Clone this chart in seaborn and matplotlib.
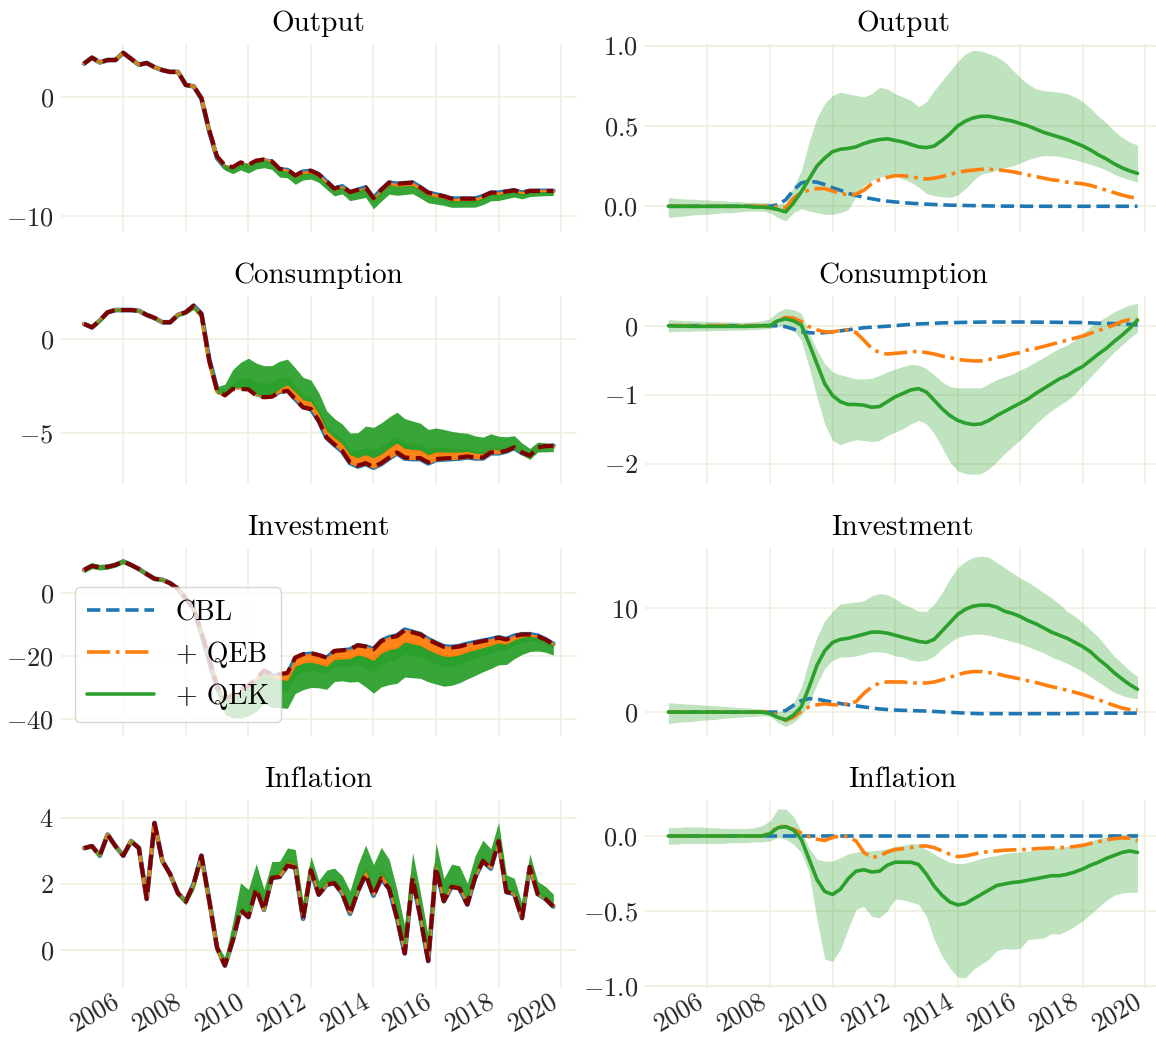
import numpy as np
import pandas as pd
import matplotlib
matplotlib.use("Agg")
import matplotlib.pyplot as plt
import seaborn as sns
from matplotlib.lines import Line2D

# ---------------- data (quarterly, 2004Q4 .. 2019Q4) ----------------
quarters = pd.period_range("2004Q4", "2019Q4", freq="Q")

titles = ["Output", "Consumption", "Investment", "Inflation"]
series_labels = ["CBL", "+ QEB", "+ QEK"]
year_ticks = [2006, 2008, 2010, 2012, 2014, 2016, 2018, 2020]
year_labels = ["2006", "2008", "2010", "2012", "2014", "2016", "2018", "2020"]

# ---- Output ----
output_data = [2.8, 3.3, 2.9, 3.1, 3.1, 3.7, 3.2, 2.7, 2.85, 2.5, 2.25, 2.1, 2.1, 1.0, 0.9, -0.1,
               -2.8, -5.0, -5.75, -5.9, -5.5, -5.7, -5.35, -5.25, -5.4, -6.05, -6.1, -6.6, -6.25,
               -6.2, -6.5, -7.1, -7.7, -7.5, -8.0, -7.8, -7.6, -8.5, -7.8, -7.2, -7.3, -7.25, -7.2,
               -7.6, -8.05, -8.2, -8.35, -8.55, -8.55, -8.55, -8.55, -8.35, -8.05, -8.05, -7.95,
               -7.85, -8.05, -7.9, -7.9, -7.9, -7.9]
output_cbl = [0.0, 0.0, 0.0, 0.0, 0.0, 0.0, 0.0, 0.0, 0.0, 0.0, 0.0, 0.0, 0.0,
              0.0, 0.01, 0.04, 0.1, 0.145, 0.155, 0.15, 0.135, 0.115, 0.1, 0.08, 0.068, 0.055,
              0.047, 0.038, 0.032, 0.027, 0.023, 0.019, 0.016, 0.013, 0.011, 0.009, 0.007, 0.006,
              0.005, 0.004, 0.003, 0.002, 0.002, 0.001, 0.001, 0.001,
              0.0, 0.0, 0.0, 0.0, 0.0, 0.0, 0.0, 0.0, 0.0, 0.0, 0.0, 0.0, 0.0, 0.0, 0.0]
output_qeb = [0.0, 0.0, 0.0, 0.0, 0.0, 0.0, 0.0, 0.0, 0.0, 0.0, 0.0, 0.0, 0.0,
              0.0, -0.005, -0.01, 0.05, 0.085, 0.1, 0.11, 0.11, 0.095, 0.08, 0.072, 0.075, 0.1,
              0.14, 0.165, 0.18, 0.19, 0.19, 0.185, 0.175, 0.17, 0.175, 0.185, 0.2, 0.21, 0.22,
              0.225, 0.23, 0.23, 0.228, 0.222, 0.215, 0.205, 0.195, 0.185, 0.175, 0.165, 0.16,
              0.15, 0.145, 0.14, 0.13, 0.115, 0.1, 0.085, 0.07, 0.058, 0.05]
output_qek = [0.0, 0.0, 0.0, 0.0, 0.0, 0.0, 0.0, 0.0, 0.0, 0.0, 0.0, -0.005, -0.005,
              -0.01, -0.02, -0.035, 0.02, 0.09, 0.17, 0.25, 0.30, 0.34, 0.355, 0.36, 0.37, 0.39,
              0.405, 0.415, 0.42, 0.41, 0.40, 0.385, 0.37, 0.365, 0.375, 0.41, 0.45, 0.50, 0.53,
              0.55, 0.56, 0.56, 0.55, 0.54, 0.53, 0.515, 0.50, 0.48, 0.46, 0.445, 0.43, 0.415,
              0.395, 0.375, 0.35, 0.32, 0.295, 0.265, 0.24, 0.22, 0.205]
output_qek_lo = [-0.07, -0.065, -0.06, -0.055, -0.05, -0.05, -0.045, -0.04, -0.04, -0.035, -0.03,
                 -0.03, -0.03, -0.04, -0.07, -0.09, -0.04, -0.015, -0.03, -0.04, -0.05, -0.05,
                 -0.04, -0.02, 0.06, 0.13, 0.16, 0.18, 0.19, 0.19, 0.17, 0.15, 0.12, 0.08, 0.065,
                 0.06, 0.055, 0.07, 0.11, 0.16, 0.2, 0.21, 0.225, 0.24, 0.25, 0.27, 0.29, 0.305,
                 0.315, 0.315, 0.31, 0.3, 0.29, 0.275, 0.26, 0.245, 0.225, 0.2, 0.18, 0.165, 0.15]
output_qek_hi = [0.055, 0.05, 0.045, 0.045, 0.04, 0.04, 0.035, 0.035, 0.03, 0.03, 0.025, 0.025,
                 0.025, 0.02, 0.015, 0.02, 0.12, 0.22, 0.4, 0.55, 0.64, 0.69, 0.71, 0.70, 0.69,
                 0.68, 0.70, 0.74, 0.73, 0.70, 0.68, 0.66, 0.62, 0.65, 0.72, 0.78, 0.84, 0.90,
                 0.95, 0.97, 0.965, 0.95, 0.93, 0.9, 0.85, 0.8, 0.76, 0.73, 0.72, 0.715, 0.71,
                 0.7, 0.68, 0.65, 0.61, 0.56, 0.52, 0.47, 0.43, 0.4, 0.38]

# ---- Consumption ----
consumption_data = [0.8, 0.62, 0.98, 1.42, 1.54, 1.54, 1.54, 1.5, 1.28, 1.12, 0.89, 0.89, 1.28,
                    1.42, 1.77, 1.33, -1.15, -2.75, -3.0, -2.66, -2.66, -2.68, -3.0, -3.1, -3.07,
                    -2.84, -2.75, -3.2, -3.63, -3.72, -4.34, -5.23, -5.6, -5.94, -6.56, -6.74,
                    -6.6, -6.8, -6.6, -6.3, -6.03, -6.3, -6.33, -6.33, -6.56, -6.38, -6.35, -6.33,
                    -6.3, -6.24, -6.3, -6.3, -6.03, -6.03, -5.94, -5.76, -6.03, -6.2, -5.76, -5.7,
                    -5.67]
consumption_cbl = [0.0, 0.0, 0.0, 0.0, 0.0, 0.0, 0.0, 0.0, 0.0, 0.0, 0.0, 0.0, 0.0, 0.0,
                   0.0, -0.015, -0.05, -0.09, -0.1, -0.11, -0.1, -0.09, -0.075, -0.06, -0.045,
                   -0.03, -0.022, -0.015, -0.008, 0.0, 0.01, 0.02, 0.025, 0.03, 0.035, 0.04,
                   0.043, 0.045, 0.048, 0.05, 0.052, 0.053, 0.053, 0.053, 0.053, 0.053, 0.052,
                   0.051, 0.05, 0.05, 0.048, 0.047, 0.046, 0.045, 0.04, 0.035, 0.033, 0.03,
                   0.025, 0.02, 0.01]
consumption_qeb = [0.0, 0.0, 0.0, 0.0, 0.0, 0.0, 0.0, 0.0, 0.0, 0.0, 0.0, 0.0, 0.0,
                   0.0, 0.08, 0.12, 0.11, 0.06, -0.015, -0.06, -0.09, -0.09, -0.07, -0.06, -0.1,
                   -0.21, -0.33, -0.39, -0.41, -0.4, -0.39, -0.38, -0.37, -0.39, -0.41, -0.44,
                   -0.46, -0.49, -0.5, -0.51, -0.51, -0.49, -0.46, -0.44, -0.41, -0.39, -0.35,
                   -0.33, -0.3, -0.27, -0.24, -0.21, -0.18, -0.15, -0.11, -0.07, -0.03, 0.01,
                   0.06, 0.09, 0.09]
consumption_qek = [0.0, -0.005, -0.005, -0.01, -0.01, -0.01, -0.01, -0.01, -0.01, -0.01, -0.01,
                   -0.005, 0.0, 0.0, 0.07, 0.1, 0.07, 0.01, -0.26, -0.55, -0.84, -1.01, -1.1,
                   -1.14, -1.14, -1.15, -1.18, -1.17, -1.1, -1.03, -0.98, -0.93, -0.91, -0.96,
                   -1.08, -1.2, -1.3, -1.37, -1.41, -1.43, -1.42, -1.37, -1.3, -1.24, -1.18,
                   -1.12, -1.06, -0.98, -0.91, -0.84, -0.77, -0.72, -0.65, -0.59, -0.5, -0.41,
                   -0.33, -0.23, -0.14, -0.04, 0.08]
consumption_qek_lo = [-0.09, -0.085, -0.08, -0.08, -0.075, -0.075, -0.07, -0.07, -0.065, -0.065,
                      -0.06, -0.06, -0.05, -0.04, -0.015, 0.0, -0.06, -0.21, -0.6, -1.03, -1.42,
                      -1.66, -1.72, -1.68, -1.65, -1.66, -1.68, -1.66, -1.59, -1.54, -1.49,
                      -1.42, -1.37, -1.42, -1.56, -1.76, -1.97, -2.1, -2.14, -2.15, -2.14,
                      -2.07, -1.97, -1.85, -1.75, -1.65, -1.54, -1.42, -1.32, -1.23, -1.15,
                      -1.08, -0.99, -0.86, -0.74, -0.62, -0.5, -0.38, -0.28, -0.18, -0.09]
consumption_qek_hi = [0.09, 0.08, 0.075, 0.07, 0.065, 0.06, 0.06, 0.055, 0.055, 0.05, 0.05, 0.06,
                      0.07, 0.1, 0.2, 0.25, 0.23, 0.18, -0.11, -0.35, -0.55, -0.67, -0.71, -0.74,
                      -0.77, -0.77, -0.76, -0.72, -0.67, -0.63, -0.59, -0.56, -0.57, -0.62,
                      -0.71, -0.81, -0.88, -0.9, -0.9, -0.9, -0.9, -0.84, -0.78, -0.74, -0.7,
                      -0.64, -0.59, -0.52, -0.46, -0.39, -0.33, -0.28, -0.21, -0.11, -0.015,
                      0.06, 0.13, 0.2, 0.25, 0.3, 0.32]

# ---- Investment ----
investment_data = [7.3, 8.6, 8.1, 8.3, 8.9, 10.0, 8.9, 7.6, 6.0, 4.5, 4.2, 3.1, 1.35, -1.8, -4.9,
                   -12.7, -21.0, -29.3, -33.5, -32.4, -30.9, -29.3, -27.2, -24.6, -25.7, -25.7,
                   -25.4, -20.5, -19.4, -19.1, -19.7, -20.5, -18.4, -18.2, -17.9, -16.6, -17.0,
                   -17.9, -15.3, -14.2, -13.7, -11.8, -12.5, -13.2, -14.8, -16.0, -17.1, -17.3,
                   -17.0, -16.3, -15.8, -15.3, -14.8, -14.2, -14.8, -13.7, -13.2, -13.2, -13.7,
                   -14.8, -16.3]
investment_cbl = [0.0, 0.0, 0.0, 0.0, 0.0, 0.0, 0.0, 0.0, 0.0, 0.0, 0.0, 0.0, 0.0, 0.0, 0.0,
                  0.15, 0.65, 1.1, 1.3, 1.25, 1.1, 0.95, 0.82, 0.7, 0.6, 0.5, 0.4, 0.3, 0.25,
                  0.2, 0.17, 0.15, 0.12, 0.1, 0.06, 0.02, -0.02, -0.06, -0.1, -0.13, -0.15,
                  -0.15, -0.15, -0.15, -0.15, -0.15, -0.15, -0.15, -0.15, -0.15, -0.15, -0.14,
                  -0.13, -0.12, -0.12, -0.11, -0.1, -0.1, -0.1, -0.1, -0.1]
investment_qeb = [0.0, 0.0, 0.0, 0.0, 0.0, 0.0, 0.0, 0.0, 0.0, 0.0, 0.0, 0.0, 0.0, 0.0,
                  -0.3, -0.8, -0.5, 0.1, 0.5, 0.7, 0.8, 0.7, 0.7, 0.8, 1.0, 1.8, 2.4, 2.8, 2.9,
                  2.9, 2.9, 2.8, 2.8, 2.8, 2.9, 3.1, 3.35, 3.6, 3.8, 3.9, 3.9, 3.8, 3.7, 3.5,
                  3.35, 3.2, 3.0, 2.85, 2.65, 2.45, 2.3, 2.1, 1.9, 1.7, 1.45, 1.2, 0.9, 0.65,
                  0.4, 0.25, 0.2]
investment_qek = [0.0, 0.0, 0.0, 0.0, 0.0, 0.0, 0.0, 0.0, 0.0, 0.0, 0.0, 0.0, 0.0,
                  -0.15, -0.5, -0.75, -0.3, 0.5, 2.4, 4.5, 5.9, 6.7, 7.0, 7.1, 7.3, 7.5, 7.7,
                  7.7, 7.6, 7.4, 7.2, 7.0, 6.8, 6.7, 7.0, 7.8, 8.6, 9.4, 9.9, 10.2, 10.3, 10.3,
                  10.1, 9.7, 9.5, 9.2, 8.8, 8.5, 8.1, 7.7, 7.4, 7.1, 6.7, 6.3, 5.8, 5.1, 4.5,
                  3.8, 3.2, 2.65, 2.2]
investment_qek_lo = [-1.1, -1.0, -0.95, -0.9, -0.8, -0.75, -0.7, -0.6, -0.55, -0.5, -0.45, -0.4,
                     -0.35, -0.4, -1.0, -1.4, -1.0, -0.3, 0.8, 2.7, 4.2, 5.0, 5.3, 5.3, 5.4, 5.6,
                     5.8, 5.8, 5.7, 5.4, 5.3, 5.0, 4.9, 5.0, 5.4, 6.1, 6.7, 7.2, 7.4, 7.5, 7.5,
                     7.4, 7.2, 7.0, 6.8, 6.6, 6.3, 6.0, 5.7, 5.3, 5.0, 4.7, 4.3, 3.9, 3.4, 2.9,
                     2.4, 1.9, 1.6, 1.4, 1.3]
investment_qek_hi = [0.9, 0.85, 0.8, 0.75, 0.7, 0.65, 0.6, 0.55, 0.5, 0.45, 0.4, 0.35, 0.3, 0.15,
                     0.0, 0.3, 0.8, 2.4, 5.0, 7.2, 8.8, 9.7, 10.4, 10.5, 10.6, 10.7, 11.2, 11.4,
                     11.3, 10.9, 10.4, 10.1, 9.7, 9.7, 10.4, 11.5, 12.8, 13.9, 14.5, 14.9, 15.0,
                     14.9, 14.4, 13.9, 13.4, 12.9, 12.5, 12.0, 11.5, 11.0, 10.4, 9.7, 9.2, 8.6,
                     7.9, 7.2, 6.3, 5.4, 4.7, 4.0, 3.4]

# ---- Inflation ----
inflation_data = [3.09, 3.15, 2.86, 3.5, 3.15, 2.86, 3.3, 3.09, 1.55, 3.85, 2.7, 2.3, 1.72, 1.47,
                  2.0, 2.86, 1.5, 0.07, -0.47, 0.28, 1.22, 1.0, 1.86, 1.22, 2.19, 2.22, 2.56, 2.5,
                  0.95, 2.42, 1.68, 1.98, 2.03, 1.72, 1.1, 1.78, 2.3, 1.65, 2.17, 1.86, 0.98,
                  -0.1, 2.19, 1.0, -0.33, 2.5, 1.48, 1.92, 1.87, 1.38, 2.2, 2.7, 2.47, 3.3, 1.76,
                  1.7, 0.97, 2.52, 1.7, 1.55, 1.32]
inflation_cbl = [0.0, 0.0, 0.0, 0.0, 0.0, 0.0, 0.0, 0.0, 0.0, 0.0, 0.0, 0.0, 0.0, 0.0, 0.0, 0.0,
                 0.0, 0.0, 0.0, 0.0, 0.0, 0.0, 0.0, 0.0, 0.0, 0.0, 0.0, 0.0, 0.0, 0.0, 0.0, 0.0,
                 0.0, 0.0, 0.0, 0.0, 0.0, 0.0, 0.0, 0.0, 0.0, 0.0, 0.0, 0.0, 0.0, 0.0, 0.0, 0.0,
                 0.0, 0.0, 0.0, 0.0, 0.0, 0.0, 0.0, 0.0, 0.0, 0.0, 0.0, 0.0, 0.0]
inflation_qeb = [0.0, 0.0, 0.0, 0.0, 0.0, 0.0, 0.0, 0.0, 0.0, 0.0, 0.0, 0.0, 0.0,
                 0.018, 0.065, 0.062, 0.045, 0.018, -0.005, -0.022, -0.03, -0.01, 0.0, -0.005,
                 -0.033, -0.11, -0.145, -0.133, -0.107, -0.09, -0.085, -0.078, -0.067, -0.067,
                 -0.078, -0.1, -0.122, -0.138, -0.133, -0.122, -0.11, -0.105, -0.1, -0.095,
                 -0.093, -0.091, -0.09, -0.085, -0.082, -0.08, -0.078, -0.076, -0.07, -0.062,
                 -0.05, -0.038, -0.027, -0.018, -0.013, -0.015, -0.033]
inflation_qek = [0.0, 0.0, 0.0, 0.0, 0.0, 0.0, 0.0, 0.0, 0.0, 0.0, 0.0, 0.0, 0.0,
                 0.015, 0.055, 0.062, 0.04, -0.022, -0.155, -0.29, -0.37, -0.39, -0.355, -0.285,
                 -0.235, -0.225, -0.24, -0.235, -0.195, -0.175, -0.175, -0.175, -0.19, -0.255,
                 -0.335, -0.395, -0.44, -0.46, -0.45, -0.42, -0.39, -0.36, -0.33, -0.32, -0.31,
                 -0.305, -0.295, -0.285, -0.275, -0.265, -0.265, -0.255, -0.24, -0.22, -0.195,
                 -0.175, -0.15, -0.13, -0.11, -0.1, -0.11]
inflation_qek_lo = [-0.055, -0.055, -0.05, -0.05, -0.05, -0.05, -0.05, -0.05, -0.045, -0.045,
                    -0.045, -0.04, -0.04, -0.033, -0.01, -0.022, -0.055, -0.11, -0.245, -0.555,
                    -0.82, -0.835, -0.755, -0.62, -0.49, -0.47, -0.535, -0.545, -0.5, -0.42,
                    -0.425, -0.44, -0.455, -0.535, -0.69, -0.8, -0.88, -0.94, -0.945, -0.89,
                    -0.855, -0.82, -0.765, -0.75, -0.755, -0.75, -0.69, -0.685, -0.68, -0.65,
                    -0.655, -0.63, -0.6, -0.565, -0.52, -0.475, -0.43, -0.395, -0.38, -0.375,
                    -0.375]
inflation_qek_hi = [0.055, 0.055, 0.06, 0.06, 0.06, 0.055, 0.055, 0.05, 0.05, 0.05, 0.05, 0.055,
                    0.07, 0.1, 0.18, 0.18, 0.13, 0.033, -0.08, -0.155, -0.167, -0.167, -0.145,
                    -0.12, -0.107, -0.1, -0.1, -0.093, -0.085, -0.07, -0.062, -0.05, -0.055,
                    -0.09, -0.12, -0.15, -0.175, -0.185, -0.18, -0.167, -0.15, -0.138, -0.13,
                    -0.118, -0.11, -0.107, -0.1, -0.095, -0.09, -0.085, -0.078, -0.07, -0.062,
                    -0.05, -0.033, -0.018, -0.005, 0.005, 0.01, 0.018, 0.018]

panels = [
    (output_data, output_cbl, output_qeb, output_qek, output_qek_lo, output_qek_hi),
    (consumption_data, consumption_cbl, consumption_qeb, consumption_qek,
     consumption_qek_lo, consumption_qek_hi),
    (investment_data, investment_cbl, investment_qeb, investment_qek,
     investment_qek_lo, investment_qek_hi),
    (inflation_data, inflation_cbl, inflation_qeb, inflation_qek,
     inflation_qek_lo, inflation_qek_hi),
]

# ---------------- styling ----------------
left_yticks = [[-10, 0], [-5, 0], [-40, -20, 0], [0, 2, 4]]
right_yticks = [[0.0, 0.5, 1.0], [-2, -1, 0], [0, 10], [-1.0, -0.5, 0.0]]
left_ylims = [(-11.35, 4.45), (-7.71, 2.29), (-45.4, 14.3), (-1.15, 4.55)]
right_ylims = [(-0.16, 1.01), (-2.29, 0.43), (-2.3, 15.8), (-1.013, 0.24)]

BLUE, ORANGE, GREEN = "#1f77b4", "#ff7f0e", "#2ca02c"
DATA_RED = "#7f0000"
GRID = "#f0f0e2"

sns.set_theme(style="whitegrid")
plt.rcParams.update({
    "font.family": "serif",
    "font.serif": ["cmr10"],
    "mathtext.fontset": "cm",
    "axes.formatter.use_mathtext": True,
    "axes.unicode_minus": True,
    "text.color": "black",
    "xtick.color": ".15",
    "ytick.color": ".15",
})

fig, axes = plt.subplots(4, 2, figsize=(11.56, 10.39), dpi=100, sharex=True)
fig.subplots_adjust(left=0.0525, right=1.0043, top=0.9577, bottom=0.0491,
                    wspace=0.132, hspace=0.34)

x = np.asarray(quarters.year + (quarters.quarter - 1) / 4.0, dtype=float)

for r, (name, vals) in enumerate(zip(titles, panels)):
    data, cbl, qeb, qek, lo, hi = [np.asarray(v, dtype=float) for v in vals]
    axl, axr = axes[r, 0], axes[r, 1]

    # ---- left: counterfactual paths around the observed data ----
    axl.plot(x, data - cbl, color=BLUE, lw=3.4, zorder=2)
    axl.fill_between(x, data - cbl, data - qeb, color=ORANGE, alpha=0.95, lw=0.8,
                     edgecolor=ORANGE, zorder=3)
    axl.plot(x, data - qeb, color=ORANGE, lw=2.5, zorder=3)
    # QEK paths: spread from the QEB path out to the far edge of the band
    axl.fill_between(x, data - qeb, data - lo, color=GREEN, alpha=0.95, lw=0,
                     zorder=4)
    axl.fill_between(x, data - qeb, data - hi, color=GREEN, alpha=0.95, lw=0,
                     zorder=4)
    sns.lineplot(x=x, y=data, ax=axl, color=DATA_RED, linestyle="--", lw=3.0,
                 legend=False, zorder=5)

    # ---- right: differences with band ----
    axr.fill_between(x, lo, hi, color=GREEN, alpha=0.3, lw=0, zorder=1)
    sns.lineplot(x=x, y=cbl, ax=axr, color=BLUE, linestyle="--", lw=2.6, legend=False, zorder=3)
    sns.lineplot(x=x, y=qeb, ax=axr, color=ORANGE, linestyle="-.", lw=2.6, legend=False, zorder=4)
    sns.lineplot(x=x, y=qek, ax=axr, color=GREEN, linestyle="-", lw=2.6, legend=False, zorder=5)

    for ax, yt, yl in ((axl, left_yticks[r], left_ylims[r]), (axr, right_yticks[r], right_ylims[r])):
        ax.set_title(name, fontsize=21, color="black", pad=9)
        ax.set_yticks(yt)
        ax.set_ylim(*yl)
        ax.set_xlim(2004.0, 2020.5)
        ax.set_xlabel("")
        ax.set_ylabel("")
        ax.grid(True, color=GRID, lw=1.3)
        for sp in ax.spines.values():
            sp.set_visible(False)
        ax.tick_params(axis="y", labelsize=19, length=0, pad=5)
        ax.tick_params(axis="x", labelsize=19, length=0, pad=0.5)

for ax in axes[3]:
    ax.set_xticks(year_ticks)
    ax.set_xticklabels(year_labels)
    plt.setp(ax.get_xticklabels(), rotation=30, ha="right")

handles = [Line2D([], [], color=BLUE, ls="--", lw=2.6),
           Line2D([], [], color=ORANGE, ls="-.", lw=2.6),
           Line2D([], [], color=GREEN, ls="-", lw=2.6)]
leg = axes[2, 0].legend(handles, series_labels, loc="lower left", fontsize=20,
                        frameon=True, framealpha=0.8, edgecolor="0.8", facecolor="white",
                        handlelength=2.4, handletextpad=0.8, labelspacing=0.55, borderpad=0.45)
leg.set_zorder(10)

fig.savefig("out.png", dpi=100)
